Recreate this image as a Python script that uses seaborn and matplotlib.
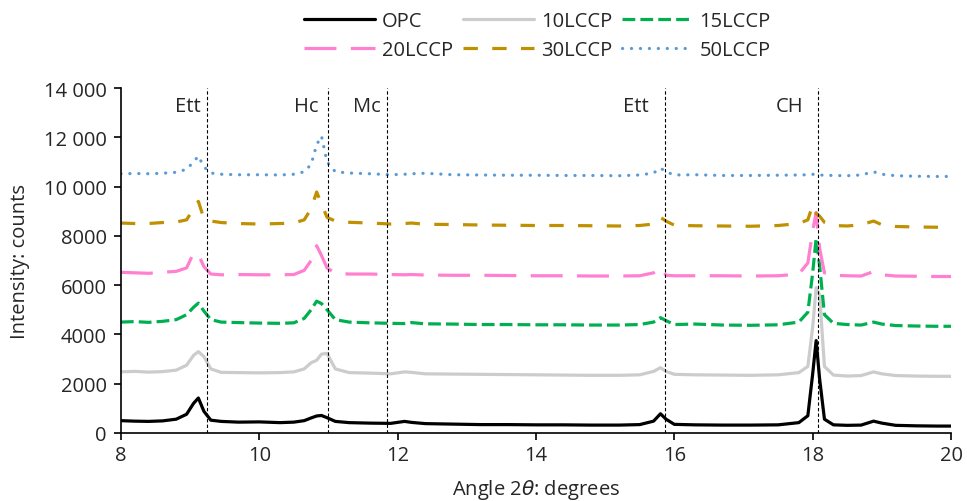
import numpy as np
import pandas as pd
import seaborn as sns
import matplotlib.pyplot as plt
from matplotlib.ticker import FuncFormatter, MultipleLocator

# 2-theta positions (degrees)
angle = [8.0, 8.2, 8.4, 8.6, 8.8, 8.95, 9.05, 9.12, 9.2, 9.3, 9.45, 9.7, 10.0, 10.3,
         10.5, 10.65, 10.75, 10.83, 10.9, 10.98, 11.1, 11.3, 11.6, 11.9, 12.1, 12.2,
         12.4, 12.8, 13.2, 13.6, 14.0, 14.4, 14.8, 15.2, 15.5, 15.7, 15.8, 15.88, 16.0,
         16.3, 16.7, 17.1, 17.5, 17.8, 17.93, 18.0, 18.05, 18.1, 18.17, 18.3, 18.5,
         18.7, 18.88, 19.0, 19.2, 19.5, 19.8, 20.0]

opc = [500, 480, 470, 490, 560, 760, 1200, 1420, 880, 520, 470, 440, 450, 420,
       440, 500, 610, 690, 710, 620, 470, 420, 400, 390, 470, 430,
       380, 360, 340, 340, 330, 330, 320, 320, 340, 480, 780, 560, 350,
       330, 320, 320, 330, 420, 700, 2400, 3750, 2200, 560, 330, 310,
       320, 480, 400, 310, 290, 280, 280]

lccp10 = [2480, 2500, 2470, 2490, 2550, 2750, 3150, 3300, 3100, 2600, 2460, 2450, 2440, 2450,
          2480, 2600, 2850, 2950, 3200, 3230, 2600, 2450, 2430, 2400, 2480, 2460,
          2400, 2390, 2380, 2370, 2360, 2350, 2340, 2340, 2360, 2500, 2650, 2500, 2380,
          2360, 2350, 2340, 2360, 2450, 2700, 4300, 5900, 5600, 2700, 2350, 2310,
          2330, 2480, 2400, 2330, 2310, 2300, 2300]

lccp15 = [4500, 4520, 4490, 4530, 4600, 4800, 5100, 5270, 4950, 4600, 4500, 4480, 4460, 4450,
          4470, 4650, 5000, 5350, 5250, 5000, 4600, 4500, 4470, 4450, 4440, 4480,
          4430, 4420, 4400, 4400, 4390, 4390, 4380, 4380, 4400, 4500, 4680, 4560, 4400,
          4420, 4380, 4370, 4390, 4500, 4900, 6500, 7900, 6800, 4800, 4450, 4400,
          4380, 4500, 4420, 4360, 4340, 4330, 4330]

lccp20 = [6520, 6500, 6480, 6520, 6560, 6700, 7300, 7250, 6750, 6450, 6420, 6430, 6420, 6420,
          6430, 6600, 7000, 7600, 7200, 6700, 6480, 6450, 6450, 6430, 6420, 6430,
          6410, 6400, 6400, 6390, 6380, 6380, 6370, 6370, 6380, 6500, 6720, 6400, 6380,
          6380, 6380, 6370, 6380, 6450, 6900, 8200, 8950, 7500, 6500, 6400, 6380,
          6370, 6550, 6420, 6370, 6360, 6350, 6350]

lccp30 = [8520, 8500, 8500, 8540, 8560, 8650, 9100, 9400, 8700, 8600, 8540, 8500, 8480, 8500,
          8520, 8650, 9100, 9780, 9300, 8750, 8600, 8550, 8520, 8480, 8500, 8520,
          8470, 8460, 8440, 8430, 8420, 8420, 8410, 8400, 8420, 8480, 8750, 8600, 8430,
          8410, 8400, 8390, 8420, 8500, 8650, 9250, 8900, 8800, 8550, 8420, 8400,
          8450, 8600, 8450, 8380, 8360, 8350, 8350]

lccp50 = [10520, 10530, 10520, 10540, 10580, 10700, 11000, 11240, 10800, 10550, 10500, 10480, 10480, 10470,
          10500, 10600, 10900, 11700, 12050, 11000, 10600, 10550, 10520, 10480, 10500, 10520,
          10540, 10480, 10470, 10460, 10460, 10450, 10450, 10440, 10470, 10550, 10750, 10600, 10470,
          10480, 10450, 10450, 10460, 10470, 10480, 10500, 10480, 10470, 10460, 10450, 10440,
          10470, 10600, 10500, 10440, 10420, 10410, 10410]

series_names = ["OPC", "10LCCP", "15LCCP", "20LCCP", "30LCCP", "50LCCP"]
series_values = [opc, lccp10, lccp15, lccp20, lccp30, lccp50]

# phase marker lines and their labels
phase_pos = [9.25, 11.0, 11.85, 15.86, 18.07]
phase_labels = ["Ett", "Hc", "Mc", "Ett", "CH"]
label_shift = [0.28, 0.32, 0.29, 0.42, 0.41]

colors = ["black", "#cccccc", "#00b050", "#ff80d0", "#bf9000", "#5b9bd5"]
styles = ["-", "-", (0, (4, 1.6)), (0, (10, 4.5)), (0, (4.5, 4.5)), (0, (0.05, 2.75))]

sns.set_style("ticks")
plt.rcParams["font.family"] = ["Open Sans", "DejaVu Sans"]
plt.rcParams["mathtext.fontset"] = "dejavusans"
fs = 14.5

fig, ax = plt.subplots(figsize=(9.67, 5.02), dpi=100)
fig.subplots_adjust(left=0.125, right=0.9835, bottom=0.1355, top=0.8227)

for name, vals, c, ls in zip(series_names, series_values, colors, styles):
    df = pd.DataFrame({"angle": angle, "counts": vals})
    sns.lineplot(data=df, x="angle", y="counts", ax=ax, color=c, linewidth=2.3,
                 linestyle=ls, label=name, legend=False)
ax.lines[-1].set_dash_capstyle("round")

for pos, lab, sh in zip(phase_pos, phase_labels, label_shift):
    ax.axvline(pos, color="black", lw=0.8, ls=(0, (3, 2)), zorder=3)
    ax.text(pos - sh, 13070, lab, ha="center", va="baseline", fontsize=fs)

ax.set_xlim(8, 20)
ax.set_ylim(0, 14000)
ax.xaxis.set_major_locator(MultipleLocator(2))
ax.yaxis.set_major_locator(MultipleLocator(2000))


def fmt(v, _):
    v = int(round(v))
    return f"{v:,}".replace(",", " ") if v >= 10000 else str(v)


ax.yaxis.set_major_formatter(FuncFormatter(fmt))
ax.tick_params(axis="both", labelsize=fs, length=5, width=1.2, color="black")
ax.tick_params(axis="y", pad=5)
ax.tick_params(axis="x", pad=4)
for s in ["left", "bottom"]:
    ax.spines[s].set_color("black")
    ax.spines[s].set_linewidth(1.2)
sns.despine(ax=ax)

ax.set_xlabel("Angle 2$\\theta$: degrees", fontsize=fs, labelpad=8)
ax.set_ylabel("Intensity: counts", fontsize=fs, labelpad=10)

handles, labels = ax.get_legend_handles_labels()
order = [0, 3, 1, 4, 2, 5]
fig.legend([handles[i] for i in order], [labels[i] for i in order], ncol=3,
           loc="upper center", bbox_to_anchor=(0.556, 1.0),
           frameon=False, fontsize=fs, handlelength=3.5, handletextpad=0.35,
           columnspacing=0.5, labelspacing=0.45, borderpad=0.1)

fig.savefig("out.png", dpi=100)
